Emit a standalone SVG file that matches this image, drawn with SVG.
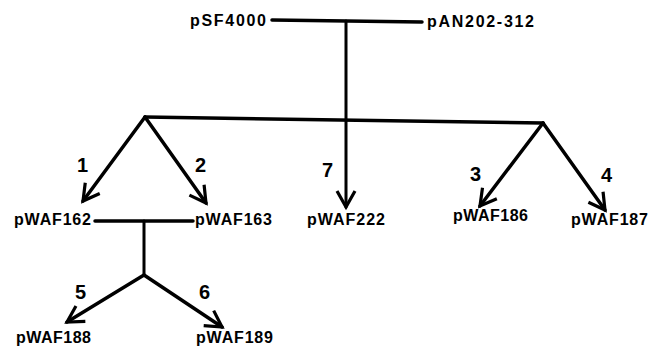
<svg xmlns="http://www.w3.org/2000/svg" width="658" height="347" viewBox="0 0 658 347">
<style>
text{font-family:"Liberation Sans",Arial,sans-serif;font-weight:bold;fill:#000}
.lbl{font-size:16px}
.num{font-size:20px}
.ln{stroke:#000;stroke-width:3.5;fill:none;stroke-linecap:round}
</style>
<defs>
<marker id="ah" markerUnits="userSpaceOnUse" markerWidth="40" markerHeight="40" viewBox="-20 -20 40 40" refX="0" refY="0" orient="auto">
<path d="M-16,-9 L0,0 L-16,9" fill="none" stroke="#000" stroke-width="3.2" stroke-linejoin="miter"/>
</marker>
</defs>
<rect width="658" height="347" fill="#fff"/>
<g id="connectors">
<line class="ln" x1="272" y1="20" x2="422" y2="22"/>
<line class="ln" x1="346" y1="21" x2="346" y2="207" marker-end="url(#ah)" style="stroke-width:3"/>
<line class="ln" x1="145" y1="117" x2="543" y2="123"/>
<line class="ln" x1="145" y1="117" x2="83" y2="201" marker-end="url(#ah)"/>
<line class="ln" x1="145" y1="117" x2="206" y2="203" marker-end="url(#ah)"/>
<line class="ln" x1="543" y1="123" x2="480" y2="206" marker-end="url(#ah)"/>
<line class="ln" x1="543" y1="123" x2="605" y2="210" marker-end="url(#ah)"/>
<line class="ln" x1="95" y1="221" x2="193" y2="221"/>
<line class="ln" x1="144" y1="221" x2="144" y2="275" style="stroke-width:3"/>
<line class="ln" x1="144" y1="275" x2="67" y2="322" marker-end="url(#ah)"/>
<line class="ln" x1="144" y1="275" x2="222" y2="327" marker-end="url(#ah)"/>
</g>
<g id="pSF4000"><text class="lbl" x="190" y="26" textLength="76" lengthAdjust="spacing">pSF4000</text></g>
<g id="pAN202-312"><text class="lbl" x="427" y="27" textLength="107" lengthAdjust="spacing">pAN202-312</text></g>
<g id="pWAF162"><text class="lbl" x="14" y="225" textLength="77" lengthAdjust="spacing">pWAF162</text></g>
<g id="pWAF163"><text class="lbl" x="195" y="225" textLength="77" lengthAdjust="spacing">pWAF163</text></g>
<g id="pWAF222"><text class="lbl" x="307" y="225" textLength="78" lengthAdjust="spacing">pWAF222</text></g>
<g id="pWAF186"><text class="lbl" x="453" y="221" textLength="75" lengthAdjust="spacing">pWAF186</text></g>
<g id="pWAF187"><text class="lbl" x="571" y="225" textLength="77" lengthAdjust="spacing">pWAF187</text></g>
<g id="pWAF188"><text class="lbl" x="16" y="343" textLength="75" lengthAdjust="spacing">pWAF188</text></g>
<g id="pWAF189"><text class="lbl" x="196" y="343" textLength="77" lengthAdjust="spacing">pWAF189</text></g>
<g id="labels">
<text class="num" x="77" y="172">1</text>
<text class="num" x="195" y="172">2</text>
<text class="num" x="322" y="177">7</text>
<text class="num" x="470" y="181">3</text>
<text class="num" x="601" y="182">4</text>
<text class="num" x="75" y="299">5</text>
<text class="num" x="199" y="299">6</text>
</g>
</svg>
